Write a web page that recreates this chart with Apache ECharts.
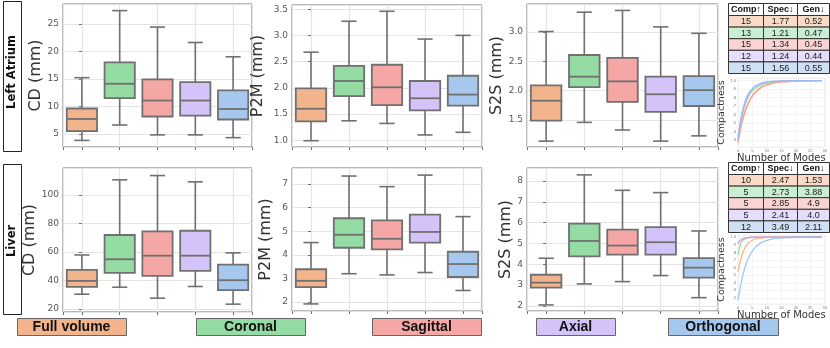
<!DOCTYPE html>
<html>
<head>
<meta charset="utf-8">
<script src="https://cdn.jsdelivr.net/npm/echarts@6/dist/echarts.min.js"></script>
<style>
  html, body { margin: 0; padding: 0; background: #fff; }
  #chart { width: 830px; height: 348px; }
</style>
</head>
<body>
<div id="chart"></div>
<script>
// groups and colours
const groups = ['Full volume', 'Coronal', 'Sagittal', 'Axial', 'Orthogonal'];
const boxColors = ['#f2b48c', '#95dba4', '#f4a7a4', '#d3c3f8', '#a7c8ee'];
const lineColors = ['#ffa870', '#7adf96', '#ff9692', '#c6afff', '#8fbcf3'];
const tableColors = ['#f9dac6', '#c9efd3', '#f9d4d2', '#e5ddfb', '#cfe0f5'];

// box stats, one row per group: [min, q1, median, q3, max]
const laCD = [[3.8, 5.5, 7.7, 9.6, 15.2], [6.6, 11.5, 14.1, 18.0, 27.4], [4.8, 8.15, 11.05, 14.9, 24.4], [4.8, 8.3, 11.05, 14.4, 21.6], [4.3, 7.6, 9.5, 12.9, 19.0]];
const laP2M = [[0.99, 1.36, 1.60, 1.99, 2.68], [1.37, 1.84, 2.13, 2.42, 3.27], [1.32, 1.67, 2.01, 2.44, 3.46], [1.10, 1.57, 1.80, 2.13, 2.93], [1.15, 1.66, 1.87, 2.23, 3.00]];
const laS2S = [[1.14, 1.49, 1.83, 2.09, 3.01], [1.46, 2.06, 2.24, 2.61, 3.34], [1.33, 1.81, 2.16, 2.56, 3.37], [1.14, 1.64, 1.94, 2.24, 3.09], [1.23, 1.74, 2.01, 2.25, 2.98]];
const liverCD = [[30.5, 35.6, 39.8, 47.5, 58.0], [35.4, 45.4, 55.0, 72.0, 110.7], [27.7, 43.3, 57.5, 74.5, 113.7], [35.9, 46.8, 57.5, 75.0, 109.3], [23.5, 33.3, 40.3, 51.2, 59.5]];
const liverP2M = [[1.92, 2.63, 2.90, 3.39, 4.52], [3.20, 4.30, 4.85, 5.55, 7.34], [3.15, 4.23, 4.68, 5.46, 6.89], [3.25, 4.52, 4.97, 5.70, 7.38], [2.49, 3.06, 3.61, 4.13, 5.62]];
const liverS2S = [[2.05, 2.88, 3.12, 3.50, 4.29], [3.06, 4.38, 5.12, 5.95, 8.29], [3.17, 4.46, 4.90, 5.66, 7.55], [3.46, 4.46, 5.06, 5.78, 7.44], [2.40, 3.36, 3.84, 4.30, 5.60]];

// tables
const tableHeader = ['Comp↑', 'Spec↓', 'Gen↓'];
const laComp = ['15', '13', '15', '12', '15'];
const laSpec = ['1.77', '1.21', '1.34', '1.24', '1.56'];
const laGen = ['0.52', '0.47', '0.45', '0.44', '0.55'];
const liverComp = ['10', '5', '5', '5', '12'];
const liverSpec = ['2.47', '2.73', '2.85', '2.41', '3.49'];
const liverGen = ['1.53', '3.88', '4.9', '4.0', '2.11'];

// compactness curves
const modes = [0, 1, 2, 3, 4, 5, 6, 8, 10, 12, 15, 20, 25, 29];
const laCompact = [
  [0.28, 0.47, 0.60, 0.70, 0.77, 0.83, 0.87, 0.92, 0.95, 0.97, 0.985, 0.995, 1.0, 1.0],
  [0.32, 0.55, 0.68, 0.77, 0.84, 0.88, 0.91, 0.95, 0.97, 0.98, 0.99, 1.0, 1.0, 1.0],
  [0.27, 0.45, 0.58, 0.68, 0.76, 0.82, 0.86, 0.92, 0.95, 0.97, 0.985, 0.995, 1.0, 1.0],
  [0.33, 0.56, 0.71, 0.81, 0.87, 0.91, 0.94, 0.97, 0.985, 0.99, 0.995, 1.0, 1.0, 1.0],
  [0.30, 0.52, 0.67, 0.78, 0.85, 0.90, 0.93, 0.965, 0.98, 0.99, 0.995, 1.0, 1.0, 1.0]
];
const liverCompact = [
  [0.55, 0.72, 0.83, 0.90, 0.94, 0.96, 0.98, 0.99, 1.0, 1.0, 1.0, 1.0, 1.0, 1.0],
  [0.77, 0.92, 0.97, 0.99, 0.995, 1.0, 1.0, 1.0, 1.0, 1.0, 1.0, 1.0, 1.0, 1.0],
  [0.91, 0.96, 0.98, 0.99, 0.995, 1.0, 1.0, 1.0, 1.0, 1.0, 1.0, 1.0, 1.0, 1.0],
  [0.93, 0.97, 0.99, 0.995, 1.0, 1.0, 1.0, 1.0, 1.0, 1.0, 1.0, 1.0, 1.0, 1.0],
  [0.17, 0.38, 0.55, 0.67, 0.76, 0.82, 0.87, 0.93, 0.96, 0.98, 0.99, 1.0, 1.0, 1.0]
];

const FONT = '"DejaVu Sans", sans-serif';
const gridLine = '#e4e4e4';
const edge = '#707070';

const panels = [
  { data: laCD, grid: { left: 63, top: 4, width: 189, height: 143 }, min: 2.6, max: 28.6, dec: 0, name: 'CD (mm)', gap: 17 },
  { data: laP2M, grid: { left: 292, top: 5, width: 190, height: 142 }, min: 0.87, max: 3.58, dec: 1, name: 'P2M (mm)', gap: 26 },
  { data: laS2S, grid: { left: 527, top: 4, width: 191, height: 143 }, min: 1.04, max: 3.48, dec: 1, name: 'S2S (mm)', gap: 20 },
  { data: liverCD, grid: { left: 63, top: 168, width: 189, height: 144 }, min: 18, max: 119, dec: 0, name: 'CD (mm)', gap: 22 },
  { data: liverP2M, grid: { left: 292, top: 168, width: 190, height: 143 }, min: 1.62, max: 7.68, dec: 0, name: 'P2M (mm)', gap: 18 },
  { data: liverS2S, grid: { left: 527, top: 168, width: 191, height: 143 }, min: 1.76, max: 8.62, dec: 0, name: 'S2S (mm)', gap: 13 }
];

const compactPanels = [
  { data: laCompact, grid: { left: 738, top: 78, width: 90, height: 69 }, min: 0.22, max: 1.03, split: 8, gap: 3 },
  { data: liverCompact, grid: { left: 738, top: 235, width: 90, height: 69 }, min: 0.12, max: 1.03, split: 9, gap: 0 }
];

function renderBox(params, api) {
  const i = api.value(0);
  const lo = api.coord([i, api.value(1)]);
  const q1 = api.coord([i, api.value(2)]);
  const md = api.coord([i, api.value(3)]);
  const q3 = api.coord([i, api.value(4)]);
  const hi = api.coord([i, api.value(5)]);
  const band = api.size([1, 0])[0];
  const bw = band * 0.8;
  const cw = bw * 0.5;
  const cx = lo[0];
  const ls = { stroke: edge, lineWidth: 1.6 };
  return {
    type: 'group',
    children: [
      { type: 'line', shape: { x1: cx, y1: hi[1], x2: cx, y2: q3[1] }, style: ls },
      { type: 'line', shape: { x1: cx, y1: q1[1], x2: cx, y2: lo[1] }, style: ls },
      { type: 'line', shape: { x1: cx - cw / 2, y1: hi[1], x2: cx + cw / 2, y2: hi[1] }, style: ls },
      { type: 'line', shape: { x1: cx - cw / 2, y1: lo[1], x2: cx + cw / 2, y2: lo[1] }, style: ls },
      { type: 'rect', shape: { x: cx - bw / 2, y: q3[1], width: bw, height: q1[1] - q3[1] },
        style: { fill: boxColors[i], stroke: edge, lineWidth: 1.8 } },
      { type: 'line', shape: { x1: cx - bw / 2, y1: md[1], x2: cx + bw / 2, y2: md[1] }, style: { stroke: edge, lineWidth: 1.8 } }
    ]
  };
}

const grids = [], xAxes = [], yAxes = [], series = [];

panels.forEach((p, k) => {
  grids.push(Object.assign({ show: true, borderColor: edge, borderWidth: 1, backgroundColor: '#fff' }, p.grid));
  xAxes.push({
    type: 'value', gridIndex: k, min: -0.5, max: 4.5,
    axisLine: { show: false },
    axisTick: { show: true, length: 3, lineStyle: { color: edge } },
    axisLabel: { show: false },
    splitLine: { show: true, lineStyle: { color: gridLine, width: 1.2 } }
  });
  yAxes.push({
    type: 'value', gridIndex: k, min: p.min, max: p.max, splitNumber: 5,
    name: p.name, nameLocation: 'middle', nameGap: p.gap,
    nameTextStyle: { fontFamily: FONT, fontSize: 16, color: '#333' },
    axisLine: { show: false },
    axisTick: { show: true, length: 3, lineStyle: { color: edge } },
    axisLabel: { fontFamily: FONT, fontSize: 9, color: '#555', margin: 4, showMinLabel: false, showMaxLabel: false,
      formatter: v => v.toFixed(p.dec) },
    splitLine: { show: true, lineStyle: { color: gridLine, width: 1.2 } }
  });
  series.push({
    type: 'custom', xAxisIndex: k, yAxisIndex: k,
    renderItem: renderBox,
    encode: { x: 0, y: [1, 2, 3, 4, 5] },
    data: p.data.map((s, i) => [i].concat(s))
  });
});

compactPanels.forEach((c, j) => {
  const k = panels.length + j;
  grids.push(Object.assign({ show: true, borderColor: '#dcdcdc', borderWidth: 0.5, backgroundColor: '#fff' }, c.grid));
  xAxes.push({
    type: 'value', gridIndex: k, min: 0, max: 30, interval: 5,
    name: 'Number of Modes', nameLocation: 'middle', nameGap: c.gap,
    nameTextStyle: { fontFamily: FONT, fontSize: 10, color: '#333' },
    axisLine: { show: false }, axisTick: { show: false },
    axisLabel: { fontSize: 4, color: '#777', margin: 2 },
    splitLine: { show: true, lineStyle: { color: '#ececec', width: 0.6 } }
  });
  yAxes.push({
    type: 'value', gridIndex: k, min: c.min, max: c.max, splitNumber: c.split,
    name: 'Compactness', nameLocation: 'middle', nameGap: 8,
    nameTextStyle: { fontFamily: FONT, fontSize: 9.5, color: '#333' },
    axisLine: { show: false }, axisTick: { show: false },
    axisLabel: { fontSize: 4, color: '#777', margin: 2, showMinLabel: false, showMaxLabel: false,
      formatter: v => v.toFixed(1).replace(/^0/, '') },
    splitLine: { show: true, lineStyle: { color: '#ececec', width: 0.6 } }
  });
  c.data.forEach((vals, i) => {
    series.push({
      type: 'line', xAxisIndex: k, yAxisIndex: k, smooth: 0.3, showSymbol: false,
      lineStyle: { color: lineColors[i], width: 1.3, opacity: 0.85 },
      data: modes.map((m, n) => [m, vals[n]])
    });
  });
});

// tables, row labels and legend as graphic elements
const graphics = [];

function rowLabel(text, top, height, cy) {
  graphics.push({ type: 'rect', shape: { x: 3.5, y: top, width: 18, height: height },
    style: { fill: '#fff', stroke: '#222', lineWidth: 1 } });
  graphics.push({ type: 'text', x: 12.5, y: cy, rotation: Math.PI / 2,
    style: { text: text, align: 'center', verticalAlign: 'middle', font: 'bold 11.5px ' + FONT, fill: '#111' } });
}
rowLabel('Left Atrium', 1.5, 150, 72);
rowLabel('Liver', 164.5, 150, 241);

const colX = [728.5, 763.5, 797.5];
const colW = [35, 34, 32];
function makeTable(top, cols) {
  const headH = 12, rowH = 11.6;
  tableHeader.forEach((h, c) => {
    graphics.push({ type: 'rect', shape: { x: colX[c], y: top, width: colW[c], height: headH },
      style: { fill: '#fff', stroke: '#333', lineWidth: 1 } });
    graphics.push({ type: 'text', x: colX[c] + colW[c] / 2, y: top + headH / 2 + 0.5,
      style: { text: h, align: 'center', verticalAlign: 'middle', font: 'bold 9px "Liberation Sans", sans-serif', fill: '#111' } });
  });
  groups.forEach((g, r) => {
    cols.forEach((col, c) => {
      const y = top + headH + r * rowH;
      graphics.push({ type: 'rect', shape: { x: colX[c], y: y, width: colW[c], height: rowH },
        style: { fill: tableColors[r], stroke: '#333', lineWidth: 1 } });
      graphics.push({ type: 'text', x: colX[c] + colW[c] / 2, y: y + rowH / 2 + 0.5,
        style: { text: col[r], align: 'center', verticalAlign: 'middle', font: '9px "Liberation Sans", sans-serif', fill: '#222' } });
    });
  });
}
makeTable(3.5, [laComp, laSpec, laGen]);
makeTable(162.5, [liverComp, liverSpec, liverGen]);

const legendBoxes = [[17, 109], [196, 109], [372, 109], [536, 79], [668, 110]];
groups.forEach((g, i) => {
  const b = legendBoxes[i];
  graphics.push({ type: 'rect', shape: { x: b[0] + 0.5, y: 318.5, width: b[1], height: 17 },
    style: { fill: boxColors[i], stroke: '#666', lineWidth: 1 } });
  graphics.push({ type: 'text', x: b[0] + b[1] / 2, y: 327.5,
    style: { text: g, align: 'center', verticalAlign: 'middle',
      font: 'bold 14px "Liberation Sans Narrow", "Liberation Sans", sans-serif', fill: '#111' } });
});

const chart = echarts.init(document.getElementById('chart'), null, { renderer: 'canvas' });
chart.setOption({
  animation: false,
  backgroundColor: '#fff',
  grid: grids,
  xAxis: xAxes,
  yAxis: yAxes,
  series: series,
  graphic: graphics
});
</script>
</body>
</html>
